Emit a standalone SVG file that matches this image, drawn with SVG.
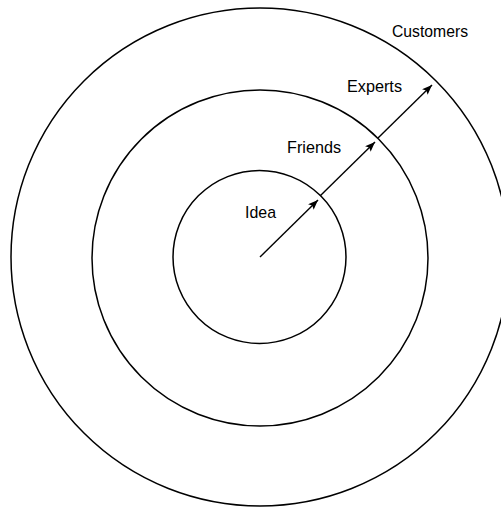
<svg xmlns="http://www.w3.org/2000/svg" width="501" height="509" viewBox="0 0 501 509">
<style>
.ring{fill:none;stroke:#000;stroke-width:1.5}
.conn{stroke:#000;stroke-width:1.4;fill:none;marker-end:url(#ah)}
.lbl{font-family:"Liberation Sans",Arial,sans-serif;font-size:17px;fill:#000}
</style>
<defs>
<marker id="ah" viewBox="0 0 10 8" refX="10" refY="4" markerWidth="10" markerHeight="8" markerUnits="userSpaceOnUse" orient="auto">
<path d="M0,0 L10,4 L0,8 L2,4 Z" fill="#000"/>
</marker>
</defs>
<rect width="501" height="509" fill="#fff"/>
<g id="customers">
<circle class="ring" cx="260" cy="257" r="249"/>
<text class="lbl" x="392" y="37" textLength="76" lengthAdjust="spacingAndGlyphs">Customers</text>
</g>
<g id="experts">
<circle class="ring" cx="260" cy="258" r="168"/>
<text class="lbl" x="347" y="92" textLength="55" lengthAdjust="spacingAndGlyphs">Experts</text>
</g>
<g id="friends">
<circle class="ring" cx="259.5" cy="257" r="86.5"/>
<text class="lbl" x="287" y="153" textLength="54" lengthAdjust="spacingAndGlyphs">Friends</text>
</g>
<g id="idea">
<text class="lbl" x="245" y="218" textLength="31" lengthAdjust="spacingAndGlyphs">Idea</text>
</g>
<g id="connectors">
<line class="conn" x1="260" y1="257" x2="318" y2="200"/>
<line class="conn" x1="320" y1="196" x2="375" y2="142"/>
<line class="conn" x1="378" y1="138" x2="432" y2="85"/>
</g>
</svg>
